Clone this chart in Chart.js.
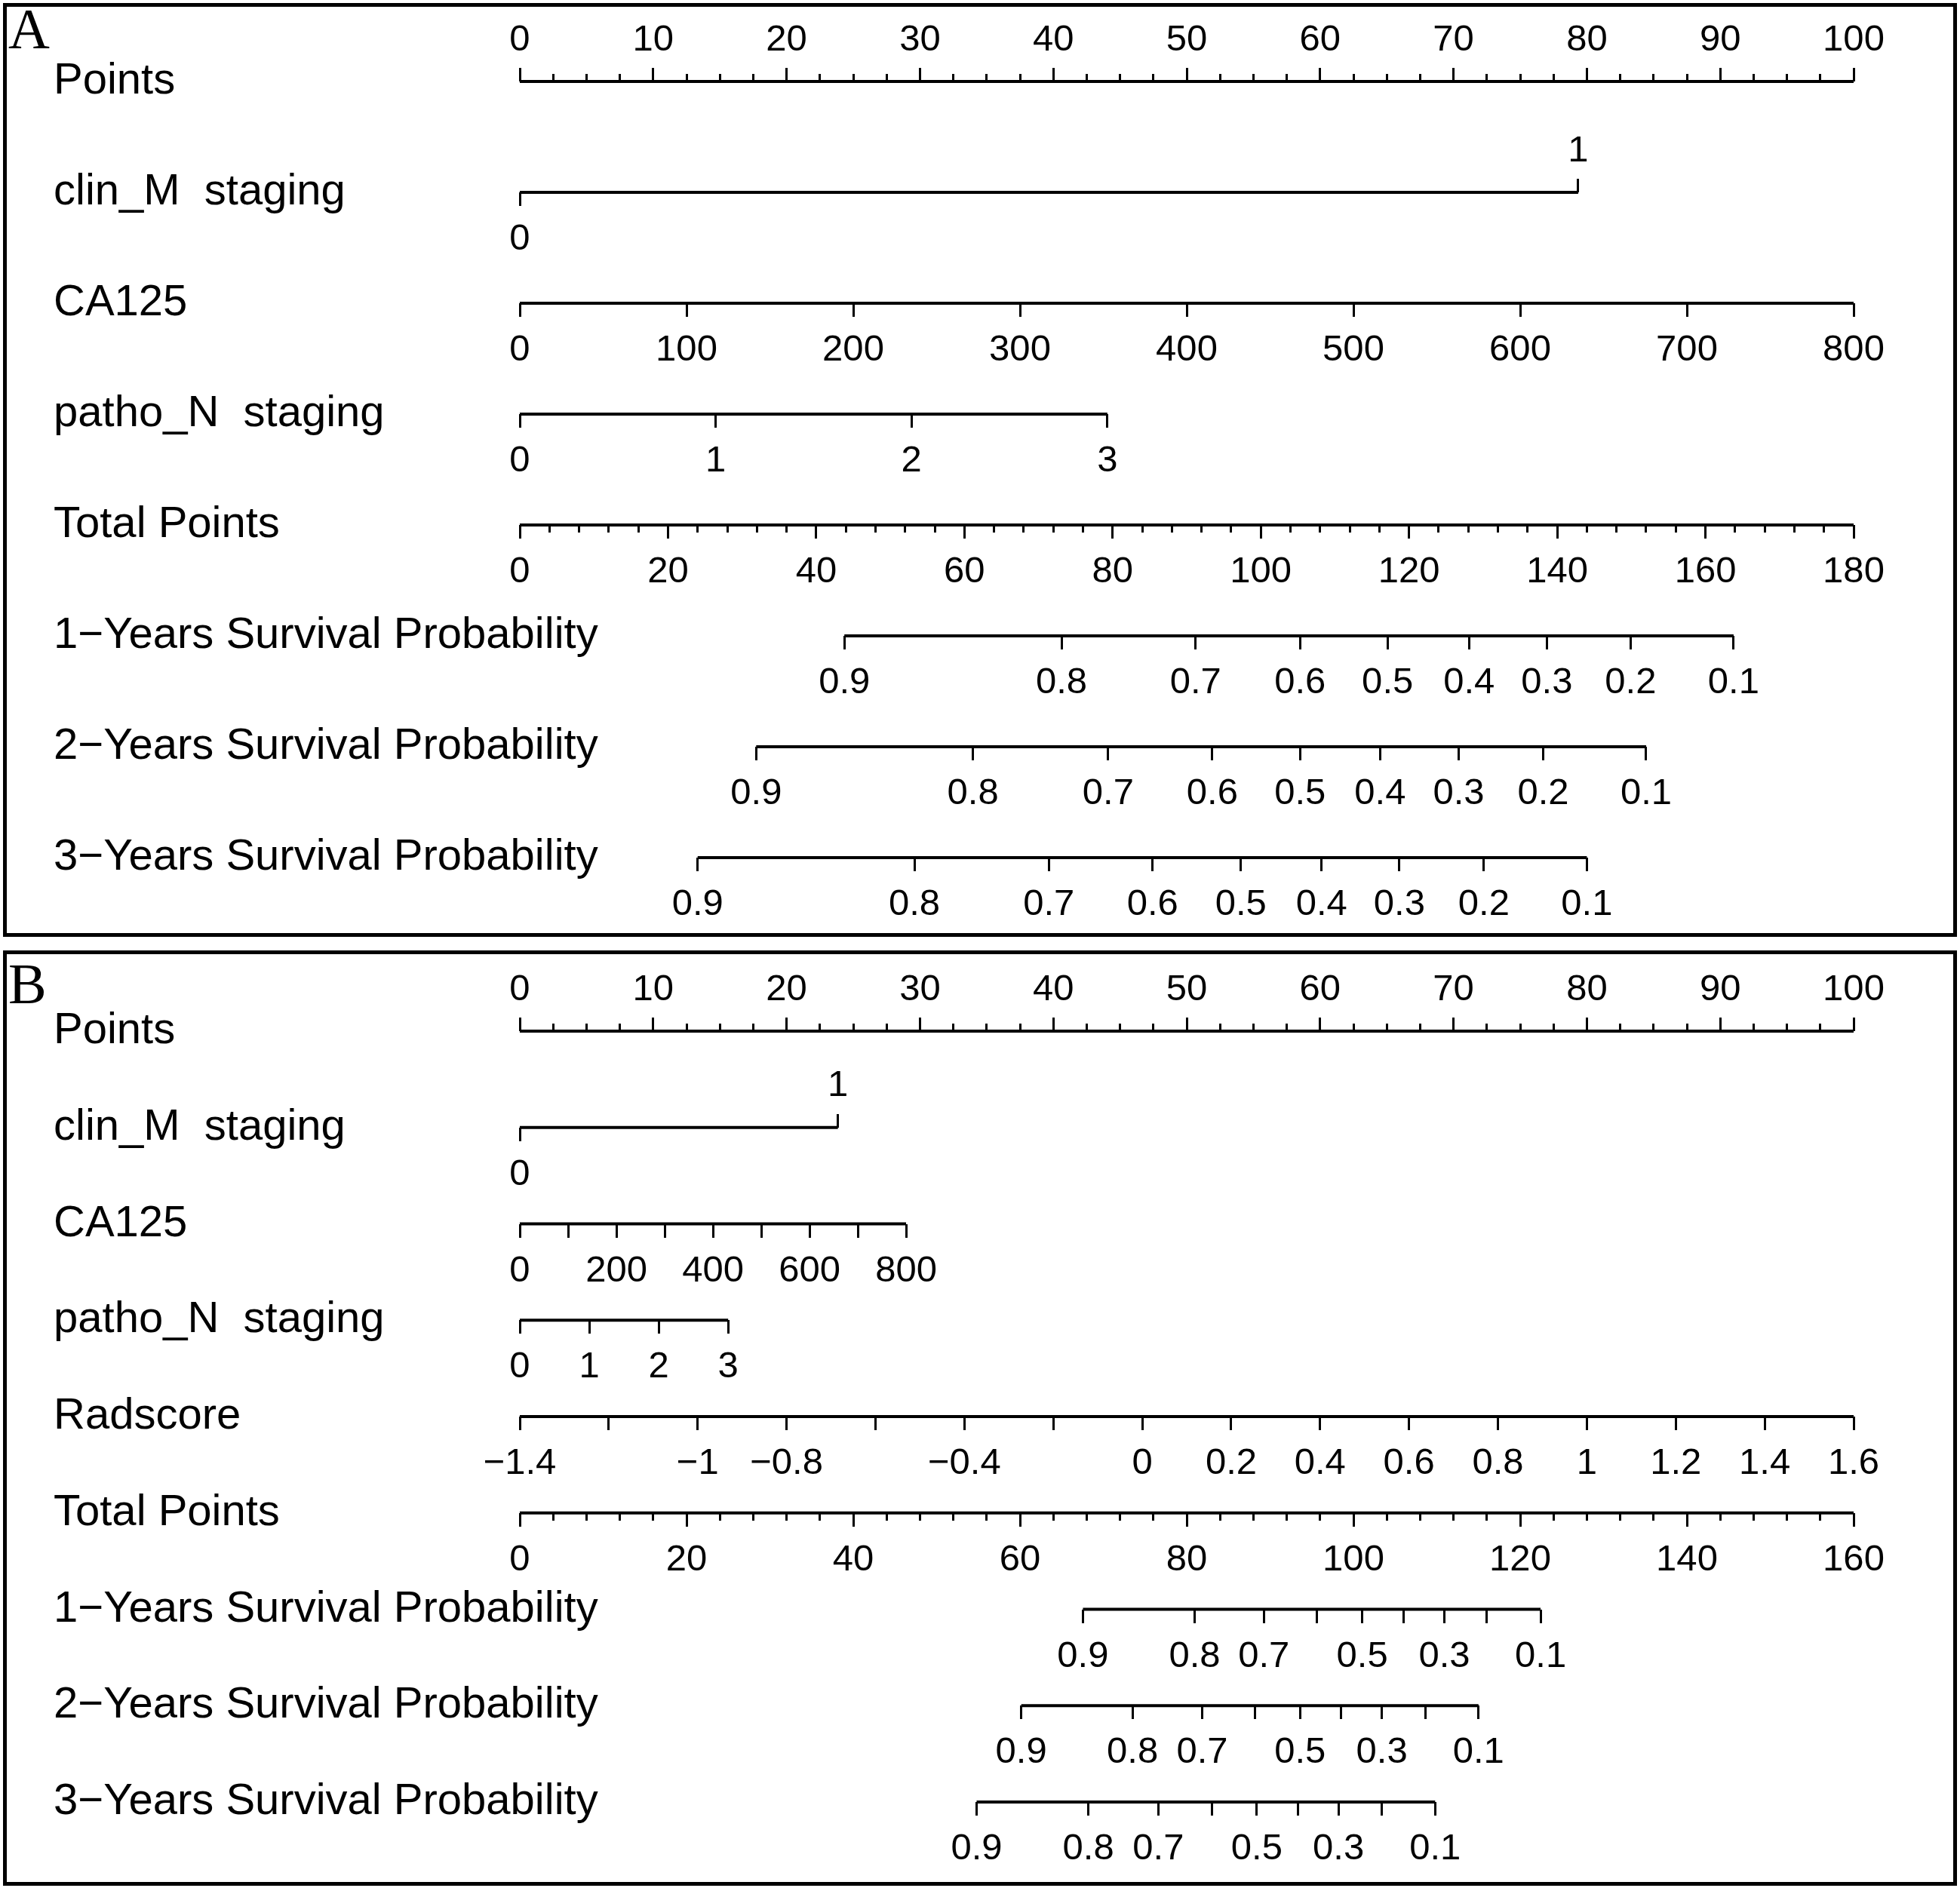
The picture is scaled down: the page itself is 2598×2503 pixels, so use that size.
<!DOCTYPE html>
<html>
<head>
<meta charset="utf-8">
<title>Nomogram A / B</title>
<script src="https://cdn.jsdelivr.net/npm/chart.js@4.4.1/dist/chart.umd.min.js"></script>
<style>
  html, body { margin: 0; padding: 0; background: #fff; }
  body { width: 2598px; height: 2503px; position: relative; overflow: hidden; }
  .panel { position: absolute; left: 4px; width: 2590px; box-sizing: border-box; border: 5px solid #000; background: #fff; }
  #panelA { top: 4px; height: 1238px; }
  #panelB { top: 1260px; height: 1240px; }
  .panel canvas { position: absolute; left: 0; top: 0; }
  .tag { position: absolute; left: 2px; font-family: 'Liberation Serif', 'Times New Roman', serif; font-size: 76px; line-height: 76px; color: #000; }
  #panelA .tag { top: -9px; }
  #panelB .tag { top: 1px; }
</style>
</head>
<body>
<div class="panel" id="panelA"><canvas id="chartA" width="2580" height="1228"></canvas><div class="tag">A</div></div>
<div class="panel" id="panelB"><canvas id="chartB" width="2580" height="1230"></canvas><div class="tag">B</div></div>
<script>
// ── Data ────────────────────────────────────

const POINT_TICKS = [0, 10, 20, 30, 40, 50, 60, 70, 80, 90, 100];
const POINT_LABELS = ['0', '10', '20', '30', '40', '50', '60', '70', '80', '90', '100'];
const SURV_LABELS = ['0.9', '0.8', '0.7', '0.6', '0.5', '0.4', '0.3', '0.2', '0.1'];
const SURV_LABELS_SPARSE = ['0.9', '0.8', '0.7', '', '0.5', '', '0.3', '', '0.1'];

// Panel A (clinical model)
const A_ROWS = ['Points', 'clin_M  staging', 'CA125', 'patho_N  staging', 'Total Points',
    '1−Years Survival Probability', '2−Years Survival Probability', '3−Years Survival Probability'];
const A_CLIN_POINTS = 79.35;          // points for clin_M = 1
const A_CA125_TICKS = [0, 100, 200, 300, 400, 500, 600, 700, 800];
const A_CA125_LABELS = ['0', '100', '200', '300', '400', '500', '600', '700', '800'];
const A_CA125_POINTS = 100;           // points for CA125 = 800
const A_PATHO_TICKS = [0, 1, 2, 3];
const A_PATHO_POINTS = 44.05;         // points for patho_N = 3
const A_TOTAL_TICKS = [0, 20, 40, 60, 80, 100, 120, 140, 160, 180];
const A_TOTAL_LABELS = ['0', '20', '40', '60', '80', '100', '120', '140', '160', '180'];
const A_TOTAL_MAX = 180;
const A_SURV1 = [43.8, 73.1, 91.2, 105.3, 117.1, 128.1, 138.6, 149.9, 163.8];
const A_SURV2 = [31.9, 61.15, 79.4, 93.45, 105.3, 116.1, 126.7, 138.1, 152.0];
const A_SURV3 = [24.0, 53.25, 71.4, 85.4, 97.3, 108.2, 118.7, 130.1, 144.0];

// Panel B (clinical + radiomics model)
const B_ROWS = ['Points', 'clin_M  staging', 'CA125', 'patho_N  staging', 'Radscore', 'Total Points',
    '1−Years Survival Probability', '2−Years Survival Probability', '3−Years Survival Probability'];
const B_CLIN_POINTS = 23.85;
const B_CA125_LABELS = ['0', '', '200', '', '400', '', '600', '', '800'];
const B_CA125_POINTS = 28.96;
const B_PATHO_POINTS = 15.62;
const B_RAD_TICKS = [-1.4, -1.2, -1, -0.8, -0.6, -0.4, -0.2, 0, 0.2, 0.4, 0.6, 0.8, 1, 1.2, 1.4, 1.6];
const B_RAD_LABELS = ['−1.4', '', '−1', '−0.8', '', '−0.4', '', '0', '0.2', '0.4', '0.6', '0.8', '1', '1.2', '1.4', '1.6'];
const B_RAD_POINTS = 100;             // points for Radscore = 1.6
const B_TOTAL_TICKS = [0, 20, 40, 60, 80, 100, 120, 140, 160];
const B_TOTAL_LABELS = ['0', '20', '40', '60', '80', '100', '120', '140', '160'];
const B_TOTAL_MAX = 160;
const B_SURV1 = [67.55, 80.95, 89.25, 95.65, 101.05, 106.0, 110.9, 116.0, 122.45];
const B_SURV2 = [60.15, 73.5, 81.85, 88.2, 93.6, 98.55, 103.4, 108.6, 115.0];
const B_SURV3 = [54.8, 68.2, 76.6, 83.0, 88.4, 93.35, 98.2, 103.4, 109.8];

// ── Style ───────────────────────────────────

const INK = '#000';
const FAMILY = "'Liberation Sans', Arial, Helvetica, sans-serif";
const TICK_FONT = { family: FAMILY, size: 49, lineHeight: 1 };
const TITLE_SIZE = 58;

// ── Helpers ─────────────────────────────────

// value range of a variable axis spread across the full 0-100 points width
function spanFor(v0, v1, pointsAtV1) {
    return { min: v0, max: v0 + (v1 - v0) * 100 / pointsAtV1 };
}

function rowAxis(row, span, values, labels, opts) {
    opts = opts || {};
    const len = opts.len || 18;
    return {
        type: 'linear',
        axis: 'x',
        position: { y: row },
        min: span.min,
        max: span.max,
        afterBuildTicks: values ? (s => { s.ticks = values.map(v => ({ value: v })); }) : undefined,
        border: { display: false },
        grid: {
            display: true,
            drawOnChartArea: false,
            drawTicks: true,
            tickLength: opts.up ? -len : len,
            tickWidth: 3,
            tickColor: INK
        },
        ticks: {
            display: !!labels,
            stepSize: opts.step,
            autoSkip: false,
            maxRotation: 0,
            minRotation: 0,
            padding: opts.up ? -61.5 : 20,
            color: INK,
            font: TICK_FONT,
            callback: (v, i) => labels ? labels[i] : ''
        }
    };
}

function rowLine(axisId, row, from, to) {
    return {
        xAxisID: axisId,
        yAxisID: 'y',
        data: [{ x: from, y: row }, { x: to, y: row }],
        borderColor: INK,
        borderWidth: 4,
        pointRadius: 0,
        fill: false,
        clip: false
    };
}

// row titles sit left of the chart area and may run past it, so draw them here
const rowTitles = {
    id: 'rowTitles',
    afterDraw(chart, args, opts) {
        const ctx = chart.ctx;
        const y = chart.scales.y;
        ctx.save();
        ctx.font = TITLE_SIZE + 'px ' + FAMILY;
        ctx.fillStyle = INK;
        ctx.textAlign = 'left';
        ctx.textBaseline = 'middle';
        opts.rows.forEach((t, i) => ctx.fillText(t, opts.left, y.getPixelForValue(i)));
        ctx.restore();
    }
};

function drawNomogram(canvasId, rows, scales, datasets, padding) {
    scales.y = {
        type: 'linear',
        position: 'left',
        reverse: true,
        min: 0,
        max: rows.length - 1,
        afterFit: s => { s.width = 618; },
        border: { display: false },
        grid: { display: false },
        ticks: { display: false }
    };
    new Chart(document.getElementById(canvasId), {
        type: 'line',
        data: { datasets: datasets },
        options: {
            responsive: false,
            animation: false,
            events: [],
            layout: { padding: padding },
            scales: scales,
            plugins: {
                legend: { display: false },
                tooltip: { enabled: false },
                rowTitles: { rows: rows, left: padding.left }
            }
        },
        plugins: [rowTitles]
    });
}

// ── Panel A ─────────────────────────────────

(function () {
    const pts = { min: 0, max: 100 };
    const clin = spanFor(0, 1, A_CLIN_POINTS);
    const ca = spanFor(0, 800, A_CA125_POINTS);
    const patho = spanFor(0, 3, A_PATHO_POINTS);
    const tot = { min: 0, max: A_TOTAL_MAX };

    const scales = {
        xPts: rowAxis(0, pts, POINT_TICKS, POINT_LABELS, { up: true }),
        xPtsMinor: rowAxis(0, pts, null, null, { up: true, len: 10, step: 2.5 }),
        xClin0: rowAxis(1, clin, [0], ['0']),
        xClin1: rowAxis(1, clin, [1], ['1'], { up: true }),
        xCa: rowAxis(2, ca, A_CA125_TICKS, A_CA125_LABELS),
        xPatho: rowAxis(3, patho, A_PATHO_TICKS, ['0', '1', '2', '3']),
        xTot: rowAxis(4, tot, A_TOTAL_TICKS, A_TOTAL_LABELS),
        xTotMinor: rowAxis(4, tot, null, null, { len: 10, step: 4 }),
        xS1: rowAxis(5, tot, A_SURV1, SURV_LABELS),
        xS2: rowAxis(6, tot, A_SURV2, SURV_LABELS),
        xS3: rowAxis(7, tot, A_SURV3, SURV_LABELS)
    };
    const datasets = [
        rowLine('xPts', 0, 0, 100),
        rowLine('xClin0', 1, 0, 1),
        rowLine('xCa', 2, 0, 800),
        rowLine('xPatho', 3, 0, 3),
        rowLine('xTot', 4, 0, A_TOTAL_MAX),
        rowLine('xS1', 5, A_SURV1[0], A_SURV1[A_SURV1.length - 1]),
        rowLine('xS2', 6, A_SURV2[0], A_SURV2[A_SURV2.length - 1]),
        rowLine('xS3', 7, A_SURV3[0], A_SURV3[A_SURV3.length - 1])
    ];
    drawNomogram('chartA', A_ROWS, scales, datasets, { left: 62, right: 132, top: 99, bottom: 100 });
})();

// ── Panel B ─────────────────────────────────

(function () {
    const pts = { min: 0, max: 100 };
    const clin = spanFor(0, 1, B_CLIN_POINTS);
    const ca = spanFor(0, 800, B_CA125_POINTS);
    const patho = spanFor(0, 3, B_PATHO_POINTS);
    const rad = spanFor(-1.4, 1.6, B_RAD_POINTS);
    const tot = { min: 0, max: B_TOTAL_MAX };

    const scales = {
        xPts: rowAxis(0, pts, POINT_TICKS, POINT_LABELS, { up: true }),
        xPtsMinor: rowAxis(0, pts, null, null, { up: true, len: 10, step: 2.5 }),
        xClin0: rowAxis(1, clin, [0], ['0']),
        xClin1: rowAxis(1, clin, [1], ['1'], { up: true }),
        xCa: rowAxis(2, ca, A_CA125_TICKS, B_CA125_LABELS),
        xPatho: rowAxis(3, patho, A_PATHO_TICKS, ['0', '1', '2', '3']),
        xRad: rowAxis(4, rad, B_RAD_TICKS, B_RAD_LABELS),
        xTot: rowAxis(5, tot, B_TOTAL_TICKS, B_TOTAL_LABELS),
        xTotMinor: rowAxis(5, tot, null, null, { len: 10, step: 4 }),
        xS1: rowAxis(6, tot, B_SURV1, SURV_LABELS_SPARSE),
        xS2: rowAxis(7, tot, B_SURV2, SURV_LABELS_SPARSE),
        xS3: rowAxis(8, tot, B_SURV3, SURV_LABELS_SPARSE)
    };
    const datasets = [
        rowLine('xPts', 0, 0, 100),
        rowLine('xClin0', 1, 0, 1),
        rowLine('xCa', 2, 0, 800),
        rowLine('xPatho', 3, 0, 3),
        rowLine('xRad', 4, -1.4, 1.6),
        rowLine('xTot', 5, 0, B_TOTAL_MAX),
        rowLine('xS1', 6, B_SURV1[0], B_SURV1[B_SURV1.length - 1]),
        rowLine('xS2', 7, B_SURV2[0], B_SURV2[B_SURV2.length - 1]),
        rowLine('xS3', 8, B_SURV3[0], B_SURV3[B_SURV3.length - 1])
    ];
    drawNomogram('chartB', B_ROWS, scales, datasets, { left: 62, right: 132, top: 102, bottom: 106 });
})();
</script>
</body>
</html>
